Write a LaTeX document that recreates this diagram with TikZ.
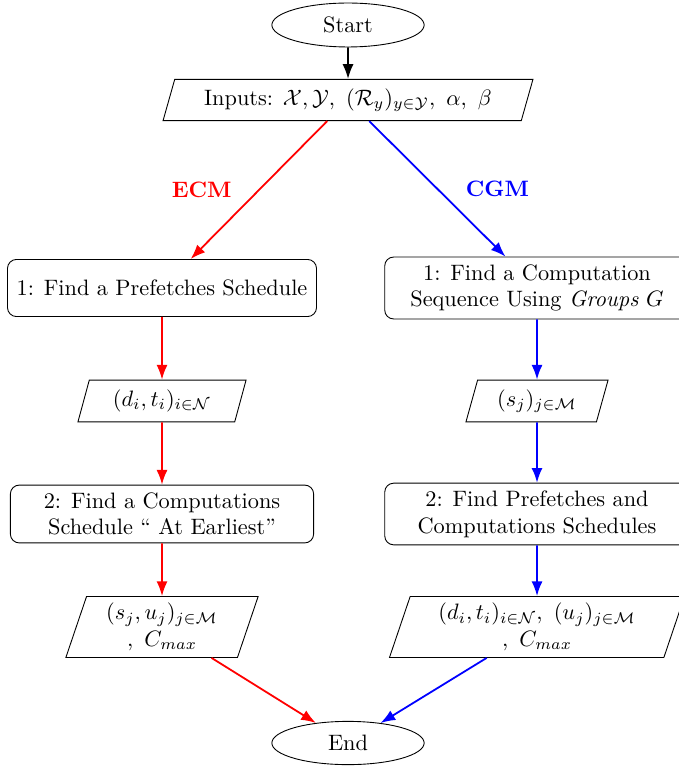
\documentclass[tikz,border=0pt]{standalone}
\usetikzlibrary{shapes.geometric,arrows.meta}

\begin{document}
\begin{tikzpicture}[x=0.01576cm, y=-0.01576cm,
  term/.style={ellipse, draw=black, minimum width=2.4cm, minimum height=0.63cm},
  io/.style={trapezium, trapezium left angle=70, trapezium right angle=110, trapezium stretches body, draw=black, align=center, inner sep=2pt},
  proc/.style={rectangle, rounded corners=4pt, draw=black, align=center},
  flow/.style={-Latex, thick}]
\useasboundingbox (0,0) rectangle (678,767);

\node[term] (start) at (348,25) {Start};
\node[io, minimum width=5.83cm, minimum height=0.65cm] (in) at (348,100) {Inputs: $\mathcal{X},\mathcal{Y},\ (\mathcal{R}_y)_{y\in\mathcal{Y}},\ \alpha,\ \beta$};

% ECM branch
\node[proc, minimum width=4.87cm, minimum height=0.9cm] (ecm1) at (162,288) {1: Find a Prefetches Schedule};
\node[io, minimum width=2.65cm, minimum height=0.66cm] (ecmout1) at (162,401) {$(d_i,t_i)_{i\in\mathcal{N}}$};
\node[proc, minimum width=4.78cm, minimum height=0.9cm] (ecm2) at (162,514) {2: Find a Computations\\Schedule `` At Earliest''};
\node[io, minimum width=3.03cm, minimum height=0.96cm] (ecmout2) at (162,627) {$(s_j,u_j)_{j\in\mathcal{M}}$\\$,\ C_{max}$};

% CGM branch
\node[proc, minimum width=4.8cm, minimum height=0.93cm] (cgm1) at (537,288) {1: Find a Computation\\Sequence Using \textit{Groups} $G$};
\node[io, minimum width=2.24cm, minimum height=0.66cm] (cgmout1) at (537,401) {$(s_j)_{j\in\mathcal{M}}$};
\node[proc, minimum width=4.8cm, minimum height=0.93cm] (cgm2) at (537,514) {2: Find Prefetches and\\Computations Schedules};
\node[io, minimum width=4.65cm, minimum height=0.96cm] (cgmout2) at (537,627) {$(d_i,t_i)_{i\in\mathcal{N}},\ (u_j)_{j\in\mathcal{M}}$\\$,\ C_{max}$};

\node[term] (end) at (348,743) {End};

\draw[flow] (start) -- (in);
\draw[flow, red] (in) -- node[midway, left=0.3cm] {\textbf{ECM}} (ecm1);
\draw[flow, blue] (in) -- node[midway, right=0.32cm] {\textbf{CGM}} (cgm1);
\draw[flow, red] (ecm1) -- (ecmout1);
\draw[flow, red] (ecmout1) -- (ecm2);
\draw[flow, red] (ecm2) -- (ecmout2);
\draw[flow, red] (ecmout2) -- (end);
\draw[flow, blue] (cgm1) -- (cgmout1);
\draw[flow, blue] (cgmout1) -- (cgm2);
\draw[flow, blue] (cgm2) -- (cgmout2);
\draw[flow, blue] (cgmout2) -- (end);

\end{tikzpicture}
\end{document}
